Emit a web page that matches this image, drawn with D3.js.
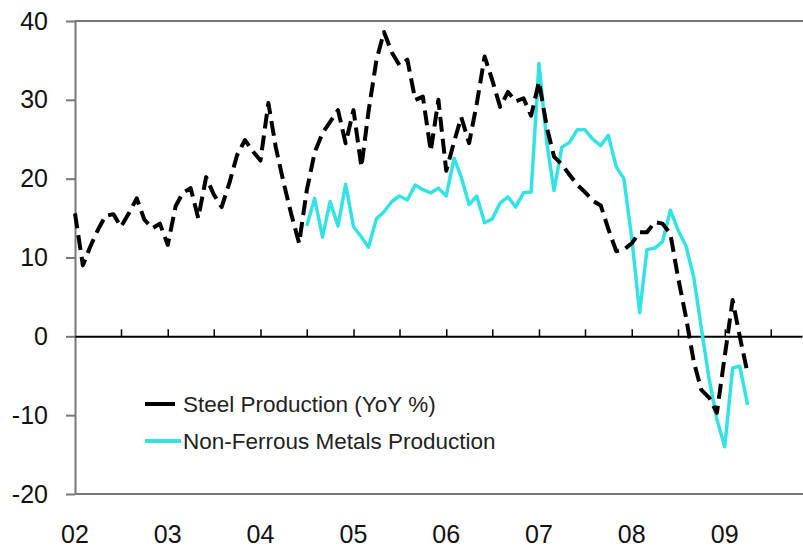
<!DOCTYPE html>
<html>
<head>
<meta charset="utf-8">
<script src="https://cdn.jsdelivr.net/npm/d3@7"></script>
<style>
  body { margin: 0; background: #fff; }
  text { font-family: Arial, "Liberation Sans", sans-serif; }
</style>
</head>
<body>
<div id="chart"></div>
<script>

// monthly YoY %, Jan 2002 .. Apr 2009
var startMonth = new Date(2002, 0, 1);

var steel = [
  15.6, 9.0, 11.3, 13.5, 15.3, 15.5, 13.9, 15.6, 17.5, 14.8,
  13.7, 14.3, 11.6, 16.5, 18.2, 18.8, 15.0, 20.2, 18.0, 16.4,
  19.5, 23.0, 24.9, 23.5, 22.3, 29.6, 24.0, 19.5, 15.5, 11.8,
  18.5, 23.3, 25.8, 27.2, 28.7, 24.5, 28.7, 21.5, 28.5, 35.0,
  38.6, 36.0, 34.4, 35.1, 30.0, 30.4, 23.5, 30.0, 21.0, 24.7,
  27.8, 24.5, 29.5, 35.5, 32.5, 29.1, 31.0, 29.8, 30.2, 28.0,
  32.3, 26.5, 22.8, 21.8, 20.5, 19.2, 18.3, 17.2, 16.6, 13.6,
  10.8, 11.0, 11.8, 13.2, 13.2, 14.5, 14.3, 13.0, 7.5, 2.5,
  -3.2, -6.8, -7.8, -9.7, -2.5, 4.6, 0.0, -4.7
];

// non-ferrous starts Jul 2004
var nonFerrousStart = new Date(2004, 6, 1);
var nonFerrous = [
  14.0, 17.5, 12.6, 17.1, 14.0, 19.3, 13.9, 12.6, 11.3, 14.9,
  15.8, 17.1, 17.8, 17.3, 19.2, 18.6, 18.2, 18.8, 17.8, 22.6,
  20.2, 16.7, 17.8, 14.4, 14.9, 16.9, 17.7, 16.4, 18.2, 18.3,
  34.6, 24.5, 18.5, 24.0, 24.6, 26.2, 26.2, 25.0, 24.2, 25.5,
  21.5, 20.0, 12.5, 3.0, 11.0, 11.2, 12.0, 16.0, 13.5, 11.5,
  7.5, 1.0, -5.5, -10.5, -14.0, -4.0, -3.8, -8.7
];

var yTicks = [40, 30, 20, 10, 0, -10, -20];
var yearLabels = ["02", "03", "04", "05", "06", "07", "08", "09"];
var seriesNames = ["Steel Production (YoY %)", "Non-Ferrous Metals Production"];

render_chart();

function render_chart(){

  var width = 803,
      height = 549;

  var x = d3.scaleTime()
    .domain([startMonth, new Date(2009, 10, 1)])
    .range([75, 802]);

  var y = d3.scaleLinear()
    .domain([-20, 40])
    .range([494, 21]);

  var svg = d3.select("#chart").append("svg")
    .attr("width", width)
    .attr("height", height);

  svg.append("rect")
    .attr("width", width)
    .attr("height", height)
    .attr("fill", "white");

  // frame lines top / bottom
  svg.selectAll(".hline")
    .data([40, -20])
    .enter().append("line")
    .attr("x1", 75)
    .attr("x2", width)
    .attr("y1", function(d){ return y(d); })
    .attr("y2", function(d){ return y(d); })
    .attr("stroke", "#777")
    .attr("stroke-width", 2);

  // y axis (plain hyphen for negatives like the original)
  var yAxis = svg.append("g")
    .attr("transform", "translate(75,0)")
    .call(d3.axisLeft(y)
      .tickValues(yTicks)
      .tickSize(9)
      .tickSizeOuter(0)
      .tickPadding(18)
      .tickFormat(function(d){ return String(d); }));
  yAxis.select(".domain").attr("stroke", "#777").attr("stroke-width", 2);
  yAxis.selectAll(".tick line").attr("stroke", "#777").attr("stroke-width", 2);
  yAxis.selectAll(".tick text")
    .attr("font-size", "25px")
    .attr("fill", "#111")
    .attr("font-family", "Arial, 'Liberation Sans', sans-serif");

  // zero line with half-year ticks
  var zeroAxis = svg.append("g")
    .attr("transform", "translate(0," + y(0) + ")")
    .call(d3.axisTop(x)
      .tickValues(d3.timeMonth.range(new Date(2002, 6, 1), new Date(2009, 10, 1), 6))
      .tickSize(7)
      .tickSizeOuter(0)
      .tickFormat(""));
  zeroAxis.select(".domain").attr("stroke", "#000").attr("stroke-width", 2);
  zeroAxis.selectAll(".tick line").attr("stroke", "#000").attr("stroke-width", 1.5);

  // year labels
  svg.selectAll(".year")
    .data(yearLabels)
    .enter().append("text")
    .attr("x", function(d){ return x(new Date(2000 + (+d), 0, 1)); })
    .attr("y", 543)
    .attr("text-anchor", "middle")
    .attr("font-size", "25px")
    .attr("fill", "#111")
    .text(function(d){ return d; });

  var steelPts = steel.map(function(v, i){ return [d3.timeMonth.offset(startMonth, i), v]; });
  var nfPts = nonFerrous.map(function(v, i){ return [d3.timeMonth.offset(nonFerrousStart, i), v]; });

  var line = d3.line()
    .x(function(d){ return x(d[0]); })
    .y(function(d){ return y(d[1]); });

  svg.append("path")
    .datum(nfPts)
    .attr("d", line)
    .attr("fill", "none")
    .attr("stroke", "#33e3e3")
    .attr("stroke-width", 3.5)
    .attr("stroke-linejoin", "round");

  svg.append("path")
    .datum(steelPts)
    .attr("d", line)
    .attr("fill", "none")
    .attr("stroke", "#000")
    .attr("stroke-width", 4)
    .attr("stroke-dasharray", "15,7")
    .attr("stroke-linejoin", "round");

  // legend
  var legend = svg.append("g");
  var legColors = ["#000", "#33e3e3"];
  var leg = legend.selectAll(".leg")
    .data(seriesNames)
    .enter().append("g")
    .attr("transform", function(d, i){ return "translate(145," + (404 + i * 37) + ")"; });

  leg.append("line")
    .attr("x1", 0)
    .attr("x2", function(d, i){ return i == 0 ? 30 : 36; })
    .attr("stroke", function(d, i){ return legColors[i]; })
    .attr("stroke-width", 4);

  leg.append("text")
    .attr("x", 38)
    .attr("y", 8)
    .attr("font-size", "22.5px")
    .attr("fill", "#222")
    .text(function(d){ return d; });
}
</script>
</body>
</html>
